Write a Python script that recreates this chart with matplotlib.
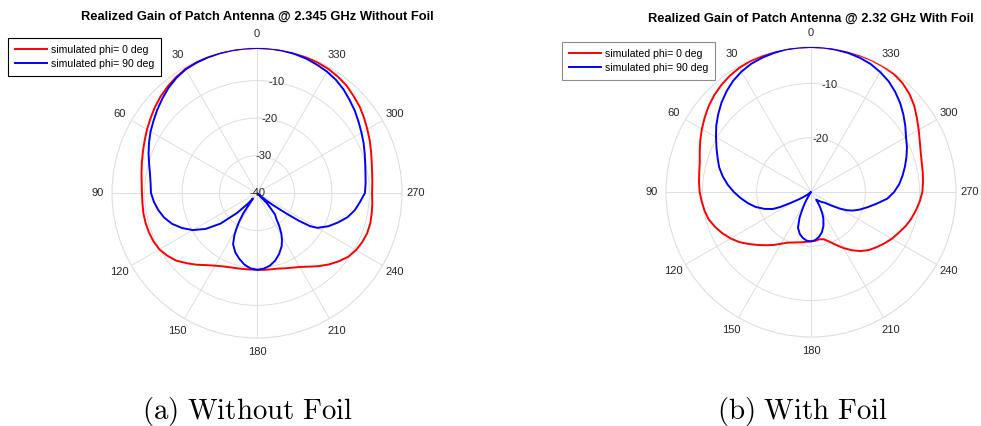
import numpy as np
import matplotlib
matplotlib.use("Agg")
import matplotlib.pyplot as plt

plt.rcParams['font.family'] = ['Liberation Sans', 'DejaVu Sans']

# ---------------- Realized gain (dB) versus theta (deg) ----------------
# Without foil, 2.345 GHz
nofoil_phi0_theta = list(range(0, 361, 5))
nofoil_phi0_gain = [
    -1.3, -1.3, -1.3, -1.35, -1.45, -1.6, -1.8, -2.3, -2.9, -3.6,
    -4.4, -5.3, -6.1, -6.9, -7.6, -8.2, -8.7, -9.1, -9.3, -9.3,
    -9.2, -9.2, -9.3, -9.5, -9.9, -10.8, -11.9, -13.5, -15.0, -16.5,
    -17.6, -18.4, -18.9, -19.2, -19.4, -19.5, -19.5, -19.4, -19.3, -19.1,
    -18.6, -18.0, -17.2, -16.0, -14.5, -13.0, -11.6, -10.3, -9.5, -9.0,
    -8.7, -8.7, -8.9, -9.1, -9.3, -9.1, -8.8, -8.3, -7.6, -6.8,
    -6.0, -5.1, -4.2, -3.5, -2.7, -2.2, -1.8, -1.6, -1.45, -1.35,
    -1.3, -1.3, -1.3,
]
nofoil_phi90_theta = [
    0, 5, 10, 15, 20, 25, 30, 35, 40, 45, 50, 55, 60, 65, 70, 75, 80, 85,
    90, 95, 100, 105, 110, 115, 120, 125, 130, 135, 140, 143, 146, 148,
    150, 152, 155, 160, 165, 170, 175, 180, 185, 190, 195, 200, 205, 208,
    211, 214, 217, 220, 224, 228, 231, 233, 235, 236.5, 238, 240, 245, 250,
    255, 260, 265, 270, 275, 280, 285, 290, 295, 300, 305, 310, 315, 320,
    325, 330, 335, 340, 345, 350, 355, 360,
]
nofoil_phi90_gain = [
    -1.3, -1.3, -1.35, -1.4, -1.5, -1.65, -1.9, -2.5, -3.3, -4.3, -5.3, -6.3,
    -7.2, -8.2, -9.2, -10.2, -11.0, -11.5,
    -11.7, -12.4, -13.3, -14.4, -15.9, -17.9, -20.2, -23.3, -27.3, -32.5,
    -36.5, -38.2, -33.5, -31.0,
    -29.0, -27.1, -24.9, -23.1, -21.8, -20.6, -19.8, -19.5, -19.7, -20.3,
    -21.3, -22.7, -24.4, -25.8,
    -27.4, -29.4, -31.5, -32.5, -36.0, -39.8, -37.0, -34.5, -30.5, -26.5,
    -23.3, -21.4, -19.0, -17.0,
    -15.0, -13.5, -12.4, -11.2, -10.9, -10.6, -10.1, -9.4, -8.6, -7.8,
    -6.9, -5.9, -5.0, -4.0,
    -3.2, -2.6, -2.2, -1.8, -1.55, -1.4, -1.3, -1.3,
]

# With foil, 2.32 GHz
foil_phi0_theta = list(range(0, 361, 5))
foil_phi0_gain = [
    -3.3, -3.3, -3.3, -3.35, -3.4, -3.45, -3.6, -3.9, -4.3, -4.8,
    -5.4, -6.1, -6.8, -7.5, -8.2, -8.8, -9.1, -9.3, -9.5, -9.8,
    -10.1, -10.5, -11.2, -12.0, -12.9, -13.9, -15.1, -16.2, -17.2, -18.1,
    -19.0, -19.7, -20.1, -20.4, -20.6, -20.8, -20.9, -21.0, -21.15, -21.0,
    -20.3, -19.3, -18.1, -16.9, -15.8, -14.9, -14.2, -13.5, -12.8, -12.2,
    -11.5, -10.9, -10.4, -9.9, -9.5, -9.3, -9.1, -8.9, -8.5, -7.9,
    -7.1, -6.2, -5.2, -4.4, -3.8, -3.45, -3.35, -3.3, -3.3, -3.3,
    -3.3, -3.3, -3.3,
]
foil_phi90_theta = [
    0, 5, 10, 15, 20, 25, 30, 35, 40, 45, 50, 55, 60, 65, 70, 75, 80, 85,
    90, 95, 100, 105, 110, 114, 116, 118, 121, 124, 127, 130, 140, 147,
    148, 150, 152, 154, 156, 160, 165, 170, 175, 180, 185, 190, 195, 200,
    205, 208, 211, 213, 214.5, 217, 220, 224, 228, 232, 236, 240, 243, 246,
    250, 255, 260, 265, 270, 275, 280, 285, 290, 295, 300, 305, 310, 315,
    320, 325, 330, 335, 340, 345, 350, 355, 360,
]
foil_phi90_gain = [
    -3.3, -3.3, -3.35, -3.5, -3.7, -3.95, -4.4, -5.0, -5.8, -6.7, -7.7, -8.7,
    -9.8, -10.8, -11.7, -12.5, -13.5, -14.6,
    -15.8, -17.0, -18.2, -19.4, -20.9, -22.3, -23.7, -25.6, -27.3, -28.4,
    -29.3, -30.5, -31.0, -30.2,
    -29.5, -28.2, -27.2, -26.2, -24.8, -23.0, -22.0, -21.4, -21.0, -20.9,
    -21.1, -21.6, -22.3, -23.3,
    -24.6, -25.6, -26.8, -27.7, -28.3, -28.1, -27.9, -27.6, -27.2, -26.8,
    -25.6, -23.9, -22.6, -21.6,
    -20.5, -19.2, -17.7, -15.9, -14.7, -13.7, -12.9, -12.1, -11.3, -10.5,
    -9.8, -8.8, -7.8, -6.8,
    -5.9, -5.1, -4.5, -4.0, -3.7, -3.5, -3.4, -3.3, -3.3,
]

angle_ticks = list(range(0, 360, 30))
angle_labels = [str(a) for a in angle_ticks]

nofoil_limits = (-40, -1.3)
nofoil_ring_labels = [-40, -30, -20, -10]
foil_limits = (-30, -3.3)
foil_ring_labels = [-20, -10]

series_names = ["simulated phi= 0 deg", "simulated phi= 90 deg"]
series_colors = ["#ff0000", "#0000ff"]

W, H = 981, 426
fig = plt.figure(figsize=(W / 100, H / 100), dpi=100)
fig.patch.set_facecolor("white")

grid_color = "#dedede"
text_color = "#262626"


def polar_panel(cx, cy, radius, curves, limits, ring_labels, title, title_xy,
                legend_xy, legend_edge, caption, caption_xy):
    rect = [(cx - radius) / W, (H - cy - radius) / H, 2 * radius / W, 2 * radius / H]
    ax = fig.add_axes(rect, projection="polar")
    ax.set_theta_zero_location("N")
    ax.set_theta_direction(1)
    rmin, rmax = limits
    for (theta, gain), name, color in zip(curves, series_names, series_colors):
        g = np.clip(np.asarray(gain, dtype=float), rmin, None)
        ax.plot(np.deg2rad(theta), g, color=color, lw=1.4, label=name, zorder=3)
    ax.set_ylim(rmin, rmax)
    ax.set_yticks([r for r in range(rmin + 10, int(rmax) + 1, 10) if r < rmax])
    ax.set_yticklabels([])
    ax.set_thetagrids(angle_ticks, labels=angle_labels)
    ax.tick_params(axis="x", labelsize=8, colors=text_color, pad=-0.5)
    ax.grid(True, color=grid_color, lw=0.7)
    ax.spines["polar"].set_color(grid_color)
    ax.spines["polar"].set_linewidth(0.8)
    for r in ring_labels:
        ax.text(np.deg2rad(350), r, str(r), ha="center", va="center",
                fontsize=8, color=text_color, zorder=4)
    leg = ax.legend(loc="upper left", bbox_to_anchor=(legend_xy[0] / W, 1 - legend_xy[1] / H),
                    bbox_transform=fig.transFigure, borderaxespad=0, fontsize=7.6,
                    frameon=True, fancybox=False, framealpha=1, edgecolor=legend_edge,
                    handlelength=3.1, handletextpad=0.35, borderpad=0.62,
                    labelspacing=0.42)
    leg.get_frame().set_linewidth(0.8)
    fig.text(title_xy[0] / W, 1 - title_xy[1] / H, title, ha="center", va="center",
             fontsize=9.3, fontweight="bold", color="black")
    fig.text(caption_xy[0] / W, 1 - caption_xy[1] / H, caption, ha="center", va="center",
             fontsize=20.8, math_fontfamily="cm", color="black")
    return ax


polar_panel(257, 193, 145,
            [(nofoil_phi0_theta, nofoil_phi0_gain), (nofoil_phi90_theta, nofoil_phi90_gain)],
            nofoil_limits, nofoil_ring_labels,
            "Realized Gain of Patch Antenna @ 2.345 GHz Without Foil", (257, 17),
            (8, 38), "black",
            r"$\mathrm{(a)\ Without\ Foil}$", (248, 411))

polar_panel(811, 192, 145,
            [(foil_phi0_theta, foil_phi0_gain), (foil_phi90_theta, foil_phi90_gain)],
            foil_limits, foil_ring_labels,
            "Realized Gain of Patch Antenna @ 2.32 GHz With Foil", (811, 19),
            (562, 42), "#8c8c8c",
            r"$\mathrm{(b)\ With\ Foil}$", (802, 411))

fig.savefig("out.png", dpi=100, facecolor="white")
